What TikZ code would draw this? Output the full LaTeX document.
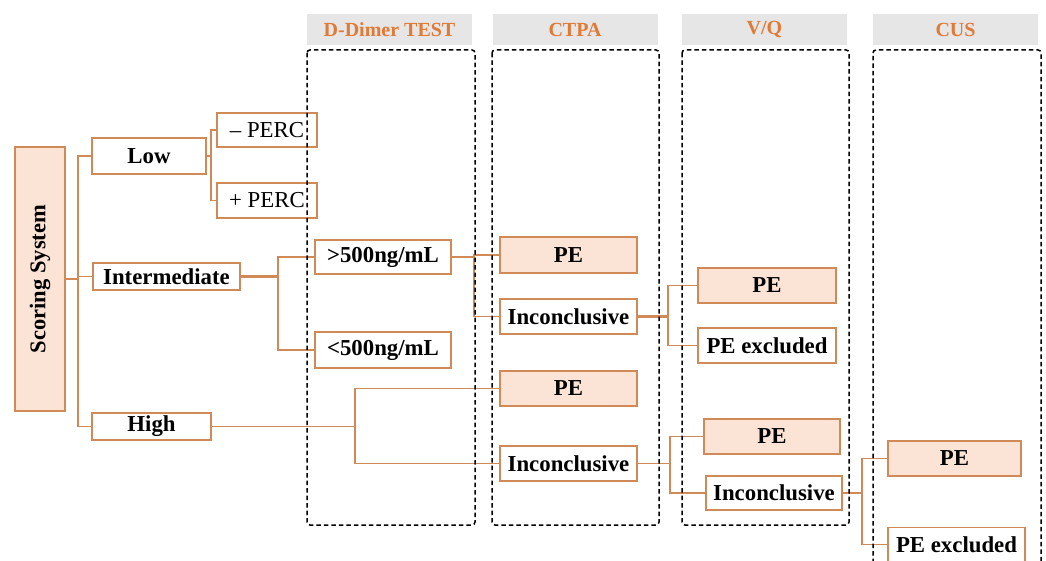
\documentclass[tikz,border=0pt]{standalone}
\usepackage{fontspec}
\setmainfont{Liberation Serif}
\definecolor{lineor}{RGB}{208,138,88}
\definecolor{peach}{RGB}{251,228,213}
\definecolor{hdtext}{RGB}{224,122,55}
\definecolor{hdgray}{RGB}{231,230,230}
\begin{document}
\begin{tikzpicture}[x=1pt,y=-1pt,
  box/.style={draw=lineor,line width=1.7pt,fill=white,inner sep=0pt,
    font=\fontsize{22.8}{25}\selectfont\bfseries,text=black},
  pbox/.style={box,fill=peach},
  rbox/.style={box,font=\fontsize{22.8}{25}\selectfont},
  hdr/.style={fill=hdgray,inner sep=0pt,minimum width=165pt,minimum height=31pt,
    font=\fontsize{20}{22}\selectfont\bfseries,text=hdtext},
  conn/.style={draw=lineor,line width=1.7pt},
  grp/.style={draw=black,line width=1.5pt,dash pattern=on 4.5pt off 3pt,rounded corners=3pt}]
\useasboundingbox (0,0) rectangle (1046,561);
% headers
\node[hdr] (hd) at (389.5,29.5) {D-Dimer TEST};
\node[hdr] (hc) at (575,29.5) {CTPA};
\node[hdr] (hv) at (764.5,29.5) {V/Q};
\node[hdr] (hu) at (955.5,29.5) {CUS};
% nodes
\node[pbox,minimum width=50pt,minimum height=264pt,font=\fontsize{22.5}{25}\selectfont\bfseries] (score) at (40,279) {\rotatebox{90}{Scoring System}};
\node[box,minimum width=114pt,minimum height=36pt] (low) at (149,156) {Low};
\node[rbox,minimum width=100pt,minimum height=34pt] (mperc) at (267,130) {– PERC\hspace{12pt}};
\node[rbox,minimum width=100pt,minimum height=35pt] (pperc) at (267,200.5) {+ PERC\hspace{12pt}};
\node[box,minimum width=147pt,minimum height=27pt] (int) at (166.5,276.5) {Intermediate};
\node[box,minimum width=119pt,minimum height=27pt] (high) at (151.5,426.5) {High};
\node[box,minimum width=136pt,minimum height=34pt] (gt) at (383,257) {>500ng/mL};
\node[box,minimum width=136pt,minimum height=36pt] (lt) at (383,350) {<500ng/mL};
\node[pbox,minimum width=137pt,minimum height=36pt] (cpe1) at (568.5,255) {PE};
\node[box,minimum width=137pt,minimum height=35pt] (cin1) at (568.5,316.5) {Inconclusive};
\node[pbox,minimum width=137pt,minimum height=35pt] (cpe2) at (568.5,388.5) {PE};
\node[box,minimum width=137pt,minimum height=35pt] (cin2) at (568.5,463.5) {Inconclusive};
\node[pbox,minimum width=138pt,minimum height=35pt] (vpe1) at (767,285.5) {PE};
\node[box,minimum width=138pt,minimum height=35pt] (vex1) at (767,345.5) {PE excluded};
\node[pbox,minimum width=136pt,minimum height=35pt] (vpe2) at (772,436.5) {PE};
\node[box,minimum width=136pt,minimum height=34pt] (vin3) at (774,493) {Inconclusive};
\node[pbox,minimum width=133pt,minimum height=35pt] (upe) at (954.5,458.5) {PE};
\node[box,minimum width=137pt,minimum height=34pt] (uex) at (956.5,544.5) {PE excluded};
% junction coordinates
\coordinate (sp) at (78,0);
\coordinate (jl) at (211,0);
\coordinate (ji) at (278,0);
\coordinate (jh) at (355,0);
\coordinate (jg) at (474,0);
\coordinate (j1) at (668,0);
\coordinate (j2) at (670,0);
\coordinate (j3) at (862,0);
% connectors
\draw[conn] (score.east) -- (score.east -| sp);
\draw[conn] (low.west) -- (low.west -| sp) -- (high.west -| sp) -- (high.west);
\draw[conn] (int.west) -- (int.west -| sp);
\draw[conn] (low.east) -- (low.east -| jl);
\draw[conn] (mperc.west) -- (mperc.west -| jl) -- (pperc.west -| jl) -- (pperc.west);
\draw[conn,line width=2.2pt] (int.east) -- (int.east -| ji);
\draw[conn] (gt.west) -- (gt.west -| ji) -- (lt.west -| ji) -- (lt.west);
\draw[conn] (high.east) -- (high.east -| jh);
\draw[conn] (cpe2.west) -- (cpe2.west -| jh) -- (cin2.west -| jh) -- (cin2.west);
\draw[conn,line width=2.2pt] (gt.east) -- (gt.east -| jg);
\draw[conn] (cpe1.west) -- (cpe1.west -| jg) -- (cin1.west -| jg) -- (cin1.west);
\draw[conn,line width=2.2pt] (cin1.east) -- (cin1.east -| j1);
\draw[conn] (vpe1.west) -- (vpe1.west -| j1) -- (vex1.west -| j1) -- (vex1.west);
\draw[conn] (cin2.east) -- (cin2.east -| j2);
\draw[conn] (vpe2.west) -- (vpe2.west -| j2) -- (vin3.west -| j2) -- (vin3.west);
\draw[conn] (vin3.east) -- (vin3.east -| j3);
\draw[conn] (upe.west) -- (upe.west -| j3) -- (uex.west -| j3) -- (uex.west);
% dashed groups
\draw[grp] (307,50) rectangle (475,525);
\draw[grp] (492,50) rectangle (659,525);
\draw[grp] (682,50) rectangle (849,525);
\draw[grp] (873,563) -- (873,50) -- (1041,50) -- (1041,563);
\end{tikzpicture}
\end{document}
